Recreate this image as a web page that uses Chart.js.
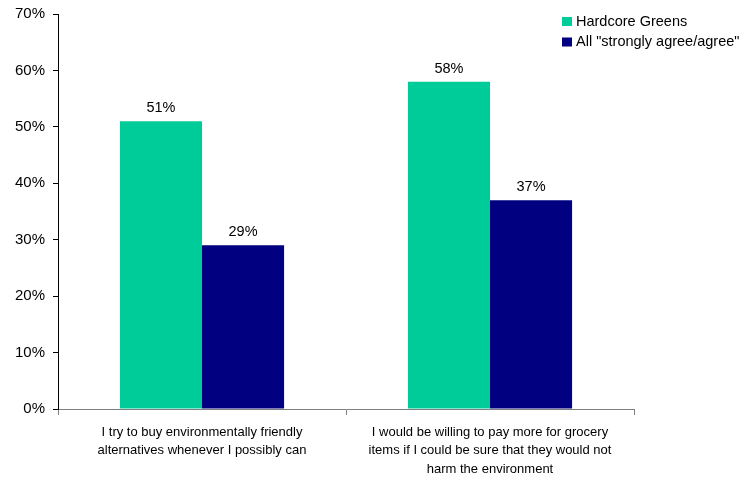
<!DOCTYPE html>
<html>
<head>
<meta charset="utf-8">
<script src="https://cdn.jsdelivr.net/npm/chart.js@4/dist/chart.umd.min.js"></script>
<style>
  html, body { margin: 0; padding: 0; background: #fff; }
  #wrap { width: 744px; height: 480px; }
</style>
</head>
<body>
<div id="wrap"><canvas id="chart" width="744" height="480"></canvas></div>
<script>
const categories = [
  ["I try to buy environmentally friendly", "alternatives whenever I possibly can"],
  ["I would be willing to pay more for grocery", "items if I could be sure that they would not", "harm the environment"]
];
const seriesNames = ["Hardcore Greens", "All \"strongly agree/agree\""];
const hardcoreGreens = [51, 58];
const allAgree = [29, 37];
const seriesColors = ["#00CC99", "#000080"];
const yTicks = [0, 10, 20, 30, 40, 50, 60, 70];

const FONT = "'Liberation Sans', Arial, sans-serif";

// Value labels above each bar
const valueLabels = {
  id: 'valueLabels',
  afterDatasetsDraw(chart) {
    const ctx = chart.ctx;
    ctx.save();
    ctx.font = "14.5px " + FONT;
    ctx.fillStyle = "#000";
    ctx.textAlign = "center";
    ctx.textBaseline = "alphabetic";
    chart.data.datasets.forEach((ds, di) => {
      chart.getDatasetMeta(di).data.forEach((bar, i) => {
        ctx.fillText(ds.data[i] + "%", bar.x, bar.y - 9);
      });
    });
    ctx.restore();
  }
};

// Legend in the upper right corner
const cornerLegend = {
  id: 'cornerLegend',
  afterDraw(chart) {
    const ctx = chart.ctx;
    ctx.save();
    ctx.font = "14.5px " + FONT;
    ctx.textBaseline = "middle";
    ctx.textAlign = "left";
    chart.data.datasets.forEach((ds, i) => {
      const cy = 21.5 + i * 20.5;
      ctx.fillStyle = ds.backgroundColor;
      ctx.fillRect(562, cy - 4.5, 10, 9);
      ctx.fillStyle = "#000";
      ctx.fillText(ds.label, 576, cy);
    });
    ctx.restore();
  }
};

new Chart(document.getElementById('chart'), {
  type: 'bar',
  data: {
    labels: categories,
    datasets: [
      { label: seriesNames[0], data: hardcoreGreens, backgroundColor: seriesColors[0] },
      { label: seriesNames[1], data: allAgree, backgroundColor: seriesColors[1] }
    ]
  },
  options: {
    responsive: false,
    animation: false,
    devicePixelRatio: 1,
    layout: { padding: { top: 14, right: 110, left: 0, bottom: 0 } },
    datasets: {
      bar: { categoryPercentage: 0.57, barPercentage: 1.0 }
    },
    plugins: {
      legend: { display: false },
      tooltip: { enabled: false }
    },
    scales: {
      x: {
        grid: {
          offset: true,
          drawOnChartArea: false,
          drawTicks: true,
          tickLength: 6,
          color: "#808080"
        },
        border: { color: "#808080", width: 1 },
        ticks: {
          color: "#000",
          font: { family: FONT, size: 13, lineHeight: 1.42 },
          padding: 8,
          maxRotation: 0,
          autoSkip: false
        },
        afterFit(scale) { scale.height = 71; }
      },
      y: {
        min: 0,
        max: 70,
        afterBuildTicks(scale) { scale.ticks = yTicks.map(v => ({ value: v })); },
        grid: {
          drawOnChartArea: false,
          drawTicks: true,
          tickLength: 5,
          color: "#000"
        },
        border: { color: "#000", width: 1 },
        ticks: {
          color: "#000",
          font: { family: FONT, size: 15 },
          padding: 8,
          callback: v => v + "%"
        },
        afterFit(scale) {
          scale.width = 58;
          scale.paddingTop = 0;
          scale.paddingBottom = 0;
        }
      }
    }
  },
  plugins: [valueLabels, cornerLegend]
});
</script>
</body>
</html>
